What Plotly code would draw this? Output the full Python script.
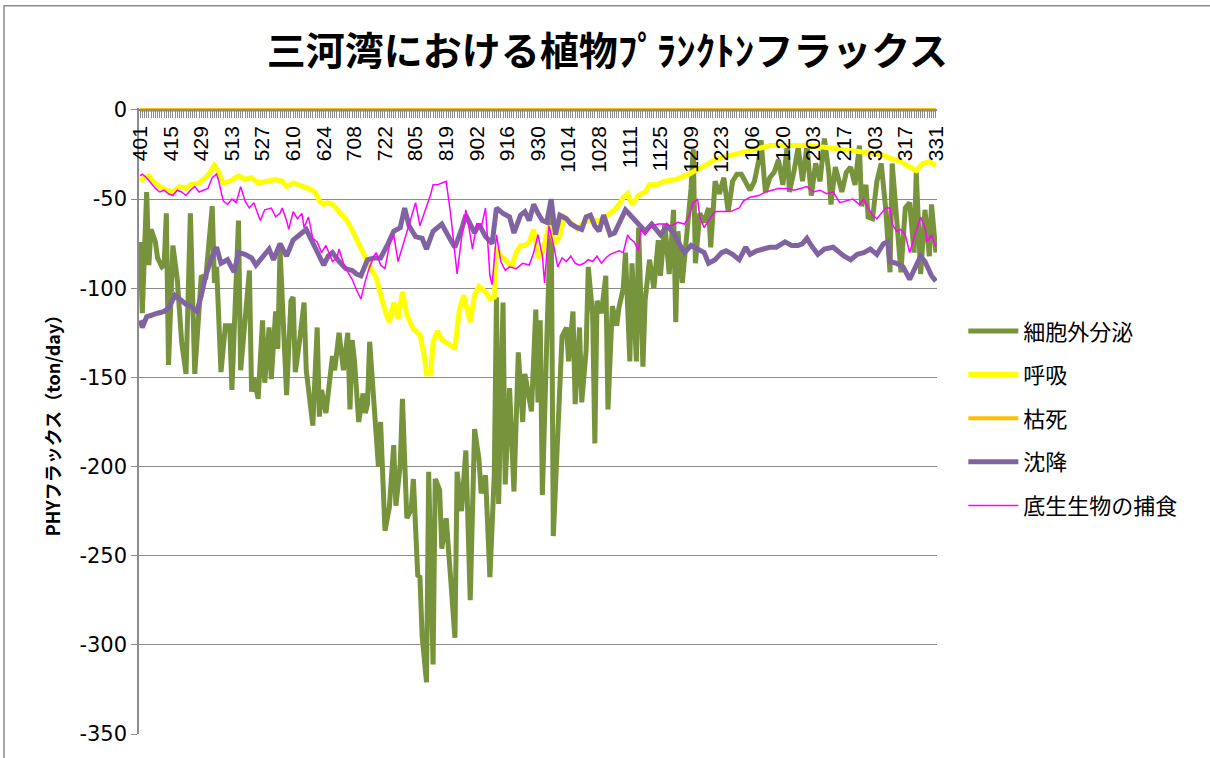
import plotly.graph_objects as go

# Category (date) tick labels, one every 14 days from Apr 1 to Mar 31
TICK_DAYS = list(range(0, 365, 14))
TICK_LABELS = ["401", "415", "429", "513", "527", "610", "624", "708", "722",
               "805", "819", "902", "916", "930", "1014", "1028", "1111", "1125",
               "1209", "1223", "106", "120", "203", "217", "303", "317", "331"]

# Value-axis ticks
Y_TICKS = [0, -50, -100, -150, -200, -250, -300, -350]
Y_TICK_LABELS = ["0", "-50", "-100", "-150", "-200", "-250", "-300", "-350"]

# 細胞外分泌 (day offset from Apr 1, ton/day)
EXC_DAY = [0, 1, 3, 4, 5, 7, 8, 10, 11, 12, 13, 15, 17, 19, 21, 23, 25, 28, 30, 33,
           34, 35, 37, 39, 41, 42, 45, 46, 48, 50, 51, 52, 54, 56, 57, 59, 60, 62, 63, 64,
           67, 69, 70, 71, 73, 75, 76, 79, 81, 82, 83, 85, 88, 89, 91, 93, 95, 96, 97, 98,
           100, 102, 103, 104, 105, 107, 109, 110, 112, 114, 116, 117, 119, 120, 122, 124, 125, 127, 128, 129,
           131, 132, 134, 135, 137, 138, 140, 142, 144, 145, 147, 149, 151, 153, 155, 156, 158, 160, 162, 163,
           164, 166, 167, 169, 171, 173, 175, 176, 179, 181, 182, 183, 184, 186, 188, 189, 191, 193, 195, 196,
           198, 199, 201, 202, 204, 205, 207, 208, 209, 211, 213, 214, 216, 218, 219, 221, 222, 224, 225, 227,
           228, 230, 231, 233, 235, 237, 238, 240, 242, 244, 245, 246, 248, 250, 252, 253, 254, 256, 258, 260,
           261, 263, 265, 267, 269, 271, 273, 275, 277, 279, 281, 283, 284, 286, 288, 290, 292, 294, 296, 297,
           299, 301, 303, 305, 307, 309, 311, 313, 315, 316, 318, 320, 321, 323, 325, 327, 329, 330, 332, 333,
           335, 337, 339, 341, 343, 344, 346, 348, 350, 352, 354, 355, 357, 359, 361, 362, 364]
EXC_VAL = [-74, -114, -46, -87, -67, -74, -83, -88, -87, -58, -143, -76, -95, -130, -148, -58, -148, -93, -95, -54,
           -97, -88, -147, -121, -121, -157, -62, -146, -118, -90, -158, -150, -162, -118, -153, -122, -151, -113, -134, -78,
           -160, -107, -105, -147, -129, -108, -146, -177, -122, -172, -157, -170, -138, -146, -125, -146, -125, -168, -129, -140,
           -175, -159, -170, -165, -130, -164, -200, -175, -236, -223, -188, -222, -199, -162, -229, -224, -207, -261, -262, -295,
           -321, -203, -311, -207, -213, -246, -229, -262, -296, -203, -225, -191, -275, -179, -196, -215, -205, -262, -205, -105,
           -221, -108, -210, -156, -214, -136, -175, -148, -169, -112, -164, -118, -216, -130, -52, -239, -175, -127, -122, -141,
           -113, -165, -122, -164, -135, -88, -115, -187, -107, -114, -93, -168, -110, -121, -111, -100, -80, -141, -86, -141,
           -66, -144, -107, -84, -100, -73, -93, -64, -92, -56, -119, -68, -97, -70, -44, -22, -86, -58, -63, -55,
           -77, -40, -47, -38, -57, -40, -36, -36, -40, -45, -40, -28, -17, -46, -38, -35, -28, -42, -20, -46,
           -35, -21, -40, -20, -48, -30, -40, -16, -35, -53, -32, -40, -46, -35, -32, -42, -20, -54, -42, -60,
           -61, -40, -30, -55, -91, -30, -60, -91, -55, -52, -80, -35, -92, -56, -82, -53, -80]

# 呼吸
RESP_DAY = [0, 2, 4, 6, 9, 12, 15, 18, 21, 23, 27, 30, 32, 34, 36, 38, 41, 45, 48, 51,
            54, 58, 62, 65, 67, 70, 73, 77, 80, 82, 84, 86, 88, 91, 94, 96, 98, 100, 102, 104,
            106, 108, 109, 111, 113, 114, 116, 118, 120, 122, 125, 128, 130, 131, 133, 134, 136, 138, 142, 144,
            146, 148, 151, 153, 155, 158, 160, 162, 163, 165, 167, 170, 172, 174, 176, 178, 180, 182, 184, 187,
            190, 192, 194, 197, 200, 203, 206, 210, 214, 217, 219, 221, 223, 225, 228, 231, 233, 236, 240, 245,
            251, 256, 260, 263, 268, 275, 281, 284, 288, 295, 305, 314, 320, 326, 333, 339, 343, 348, 352, 355,
            358, 361, 364]
RESP_VAL = [-40, -38, -37, -40, -43, -45, -46, -43, -44, -42, -41, -38, -35, -31, -35, -41, -40, -37, -39, -38,
            -41, -40, -39, -40, -43, -41, -42, -44, -46, -51, -53, -52, -53, -57, -61, -65, -70, -75, -81, -86,
            -90, -94, -99, -108, -116, -119, -108, -117, -102, -115, -123, -126, -138, -148, -148, -130, -124, -129, -132, -134,
            -112, -104, -119, -104, -99, -102, -106, -105, -77, -82, -84, -88, -80, -76, -76, -74, -67, -83, -80, -65,
            -75, -70, -60, -63, -67, -63, -62, -62, -59, -56, -53, -49, -47, -53, -48, -46, -42, -42, -40, -39,
            -36, -33, -30, -28, -26, -24, -22, -21, -20, -20, -20, -21, -22, -23, -24, -25, -27, -29, -32, -34,
            -30, -29, -31]

# 枯死
MORT_DAY = TICK_DAYS
MORT_VAL = [0] * len(TICK_DAYS)

# 沈降
SINK_DAY = [0, 1, 3, 5, 8, 11, 13, 16, 18, 21, 23, 26, 28, 30, 33, 35, 37, 40, 43, 45,
            48, 51, 53, 56, 59, 61, 64, 67, 70, 73, 76, 78, 80, 82, 84, 86, 88, 91, 94, 97,
            99, 101, 104, 107, 110, 113, 116, 119, 121, 123, 126, 129, 131, 134, 138, 142, 144, 147, 149, 153,
            155, 158, 161, 163, 166, 169, 171, 174, 176, 178, 180, 182, 184, 186, 188, 190, 192, 195, 197, 200,
            202, 204, 206, 208, 210, 212, 215, 217, 220, 222, 225, 228, 231, 234, 238, 241, 244, 246, 249, 252,
            255, 258, 260, 263, 266, 268, 271, 274, 277, 279, 282, 285, 288, 291, 295, 298, 301, 303, 305, 307,
            310, 313, 317, 320, 322, 325, 328, 331, 334, 337, 340, 342, 343, 346, 349, 352, 355, 357, 359, 362,
            364]
SINK_VAL = [-118, -122, -116, -115, -114, -113, -111, -104, -106, -109, -110, -113, -104, -93, -82, -77, -86, -84, -91, -80,
            -81, -83, -87, -82, -78, -84, -75, -82, -73, -70, -67, -72, -77, -81, -87, -82, -80, -85, -89, -90,
            -92, -93, -84, -83, -83, -76, -68, -66, -55, -65, -71, -72, -78, -68, -64, -73, -77, -67, -59, -69,
            -64, -71, -75, -55, -58, -60, -69, -59, -57, -62, -53, -58, -62, -63, -50, -70, -59, -61, -64, -66,
            -67, -60, -59, -65, -68, -59, -70, -69, -61, -56, -60, -64, -68, -64, -70, -65, -69, -74, -80, -76,
            -78, -80, -86, -84, -80, -79, -81, -84, -77, -81, -79, -78, -77, -77, -74, -76, -76, -75, -72, -76,
            -81, -78, -77, -80, -82, -84, -81, -80, -78, -81, -75, -74, -85, -86, -88, -95, -88, -82, -85, -93,
            -96]

# 底生生物の捕食
GRAZ_DAY = [0, 1, 3, 5, 7, 9, 11, 13, 15, 17, 19, 21, 23, 25, 27, 29, 31, 33, 34, 35,
            36, 38, 40, 42, 44, 46, 48, 50, 52, 54, 55, 57, 60, 62, 64, 65, 67, 68, 70, 72,
            74, 75, 77, 79, 81, 83, 85, 88, 90, 91, 93, 95, 97, 99, 101, 103, 105, 107, 108, 110,
            112, 114, 116, 118, 120, 122, 124, 126, 128, 130, 133, 134, 136, 138, 140, 142, 144, 145, 147, 149,
            151, 152, 154, 156, 158, 160, 161, 163, 165, 167, 169, 172, 175, 178, 180, 182, 184, 185, 187, 189,
            191, 193, 195, 197, 199, 201, 203, 205, 207, 209, 211, 213, 215, 217, 219, 221, 223, 224, 226, 228,
            229, 231, 234, 237, 240, 243, 246, 249, 251, 253, 255, 256, 258, 260, 263, 267, 270, 274, 276, 279,
            283, 286, 289, 292, 296, 299, 302, 305, 308, 311, 314, 317, 320, 323, 326, 329, 331, 333, 335, 337,
            339, 341, 343, 344, 346, 348, 350, 352, 354, 357, 359, 360, 362, 364]
GRAZ_VAL = [-37, -36, -38, -41, -44, -46, -45, -47, -48, -45, -46, -48, -45, -43, -46, -45, -44, -38, -37, -36,
            -40, -51, -53, -50, -52, -43, -51, -55, -52, -58, -62, -56, -55, -60, -58, -55, -62, -67, -57, -61,
            -58, -66, -60, -72, -74, -80, -76, -85, -83, -78, -86, -91, -95, -101, -106, -96, -88, -82, -80, -87,
            -89, -76, -70, -85, -77, -68, -60, -52, -65, -58, -47, -42, -42, -41, -40, -58, -80, -92, -72, -56,
            -70, -78, -64, -66, -55, -93, -98, -70, -85, -90, -88, -89, -86, -87, -80, -70, -82, -97, -65, -75,
            -88, -83, -85, -82, -86, -87, -86, -84, -85, -82, -86, -83, -81, -80, -79, -80, -70, -72, -74, -79,
            -67, -70, -65, -64, -64, -65, -63, -64, -60, -52, -50, -60, -66, -62, -57, -57, -57, -55, -51, -49,
            -48, -46, -45, -44, -44, -45, -44, -43, -46, -45, -47, -46, -52, -51, -50, -53, -50, -55, -59, -61,
            -58, -55, -55, -64, -68, -67, -70, -80, -72, -60, -66, -74, -70, -77]

SERIES = [
    ("細胞外分泌", EXC_DAY, EXC_VAL, "#77933C", 5),
    ("呼吸", RESP_DAY, RESP_VAL, "#FFFF00", 5),
    ("枯死", MORT_DAY, MORT_VAL, "#FFC000", 4),
    ("沈降", SINK_DAY, SINK_VAL, "#8064A2", 5),
    ("底生生物の捕食", GRAZ_DAY, GRAZ_VAL, "#FF00FF", 1.5),
]

JP = "Noto Sans CJK JP"
NUM = "Liberation Sans"
GRID = "#8C8C8C"

fig = go.Figure()
for i, (name, days, vals, color, width) in enumerate(SERIES):
    fig.add_trace(go.Scatter(
        x=days, y=vals, mode="lines", name=name, legendgroup=f"g{i}",
        line=dict(color=color, width=width, shape="linear"),
        hoverinfo="skip",
    ))

Y_MIN, Y_MAX = -350, 1.1

fig.update_layout(
    width=1210, height=758,
    margin=dict(l=139, r=273, t=108, b=20),
    paper_bgcolor="white", plot_bgcolor="white",
    title=dict(
        text="<b>三河湾における植物ﾌﾟﾗﾝｸﾄﾝフラックス</b>",
        x=0.502, xanchor="center", y=1 - 51 / 758, yanchor="middle",
        font=dict(family=JP, size=39, color="black"),
    ),
    legend=dict(
        x=1.033, xanchor="left", y=0.677, yanchor="top",
        font=dict(family=JP, size=22, color="black"),
        itemwidth=50, tracegroupgap=12, bgcolor="rgba(0,0,0,0)",
    ),
    showlegend=True,
    xaxis=dict(
        range=[-0.5, 364.5], anchor="free", position=(-Y_MIN) / (Y_MAX - Y_MIN), side="bottom",
        showline=True, linecolor=GRID, linewidth=1.5,
        tickmode="array", tickvals=TICK_DAYS, ticktext=TICK_LABELS, tickangle=-90,
        ticks="outside", ticklen=7, tickwidth=1, tickcolor=GRID,
        tickfont=dict(family=NUM, size=21, color="black"),
        minor=dict(tickmode="linear", tick0=0, dtick=1, ticks="outside", ticklen=7,
                   tickwidth=1, tickcolor=GRID, showgrid=False),
        showgrid=False, zeroline=False,
    ),
    yaxis=dict(
        range=[Y_MIN, Y_MAX], tickmode="array", tickvals=Y_TICKS, ticktext=Y_TICK_LABELS,
        showgrid=True, gridcolor=GRID, gridwidth=1.3,
        showline=True, linecolor=GRID, linewidth=1.5,
        ticks="outside", ticklen=6, tickcolor=GRID,
        tickfont=dict(family="DejaVu Sans", size=21, color="black"),
        zeroline=False,
        title=dict(text="<b>PHYフラックス（ton/day）</b>", standoff=14,
                   font=dict(family=JP, size=18, color="black")),
    ),
    shapes=[dict(type="rect", xref="paper", yref="paper",
                 x0=(4 - 139) / 798, x1=1.6, y0=-0.5, y1=(738 - 5) / 630,
                 line=dict(color="#8C8C8C", width=1.5), fillcolor="rgba(0,0,0,0)",
                 layer="below")],
)

fig.write_html("out.html")
